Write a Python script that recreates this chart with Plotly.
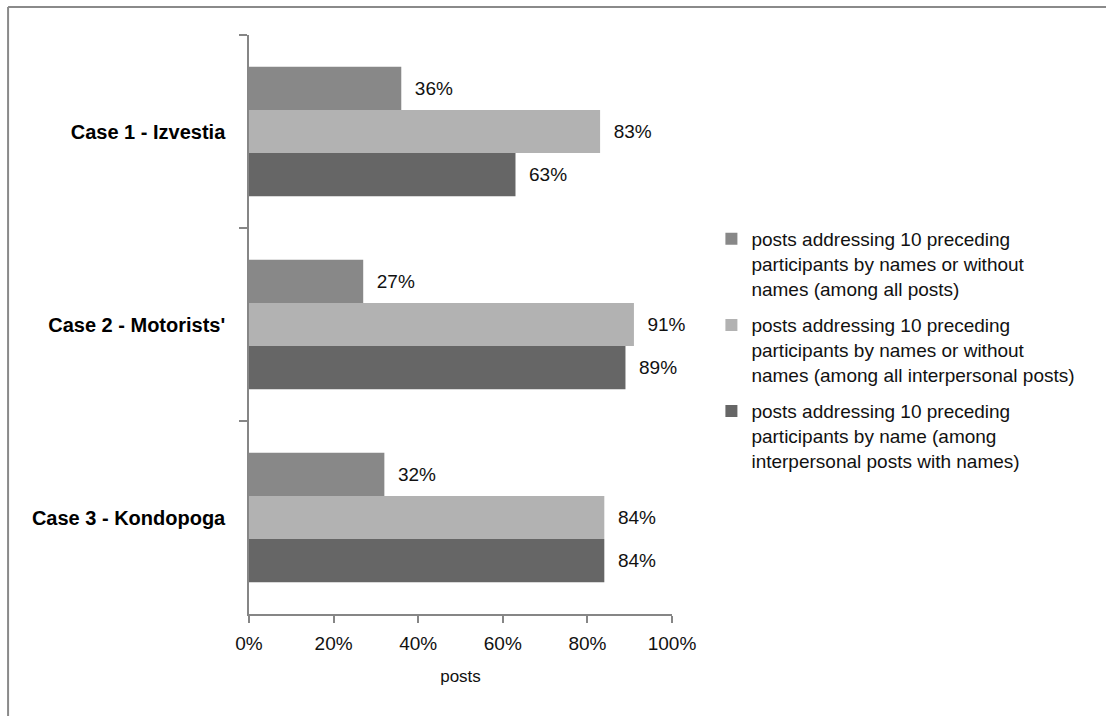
import plotly.graph_objects as go

categories = ["Case 1 - Izvestia", "Case 2 - Motorists'", "Case 3 - Kondopoga"]
series_names = [
    "posts addressing 10 preceding<br>participants by names or without<br>names (among all posts)",
    "posts addressing 10 preceding<br>participants by names or without<br>names (among all interpersonal posts)",
    "posts addressing 10 preceding<br>participants by name (among<br>interpersonal posts with names)",
]
series_values = [
    [36, 27, 32],
    [83, 91, 84],
    [63, 89, 84],
]
series_colors = ["#888888", "#b2b2b2", "#666666"]
x_ticks = [0, 20, 40, 60, 80, 100]
x_ticktext = ["0%", "20%", "40%", "60%", "80%", "100%"]

W, H = 1106, 716
L, R, T, B = 248.5, 433.5, 35, 102
FONT = "Liberation Sans, Arial, sans-serif"

fig = go.Figure()
for i, (name, vals, col) in enumerate(zip(series_names, series_values, series_colors)):
    fig.add_trace(go.Bar(
        y=categories, x=vals, orientation="h", name=name,
        legendgroup="g%d" % i,
        marker=dict(color=col, line=dict(width=0)),
        text=["\u00a0\u00a0%d%%" % v for v in vals],
        textposition="outside", cliponaxis=False,
        textfont=dict(family=FONT, size=19, color="#111111"),
        constraintext="none",
    ))

pw = W - L - R
ph = H - T - B
bx = (7 - L) / pw
by = 1 + (T - 7) / ph
fig.add_shape(type="line", xref="paper", yref="paper", x0=bx, x1=(W + 10 - L) / pw, y0=by, y1=by,
              line=dict(color="#8a8a8a", width=2))
fig.add_shape(type="line", xref="paper", yref="paper", x0=bx, x1=bx, y0=by, y1=-(B + 10) / ph,
              line=dict(color="#8a8a8a", width=2))

fig.update_layout(
    width=W, height=H,
    margin=dict(l=L, r=R, t=T, b=B, autoexpand=False),
    paper_bgcolor="white", plot_bgcolor="white",
    barmode="group", bargap=0.33, bargroupgap=0,
    font=dict(family=FONT, color="#111111"),
    showlegend=True,
    legend=dict(
        x=(712 - L) / pw, xanchor="left",
        y=1 - (350 - T) / ph, yanchor="middle",
        font=dict(family=FONT, size=19, color="#111111"),
        traceorder="grouped", itemclick=False, valign="top",
        tracegroupgap=9, itemwidth=30,
        bgcolor="rgba(0,0,0,0)",
    ),
    xaxis=dict(
        range=[0, 100], tickvals=x_ticks, ticktext=x_ticktext,
        showgrid=False, zeroline=False,
        showline=True, linecolor="#868686", linewidth=1.5,
        ticks="outside", ticklen=7, tickcolor="#868686", tickwidth=1.5,
        tickfont=dict(family=FONT, size=19, color="#111111"),
        ticklabelstandoff=4,
        title=dict(text="posts", font=dict(family=FONT, size=17, color="#111111"), standoff=18),
    ),
    yaxis=dict(
        autorange="reversed", type="category",
        showgrid=False, zeroline=False,
        showline=True, linecolor="#868686", linewidth=1.5,
        ticks="outside", tickson="boundaries", ticklen=8, tickcolor="#868686", tickwidth=1.5,
        tickfont=dict(family=FONT, size=20, color="#000000", weight="bold"),
        ticklabelstandoff=18,
    ),
)

fig.write_html(
    "out.html",
    config={"displayModeBar": False},
    post_script="document.body.style.margin='0';document.body.style.overflow='hidden';",
)
